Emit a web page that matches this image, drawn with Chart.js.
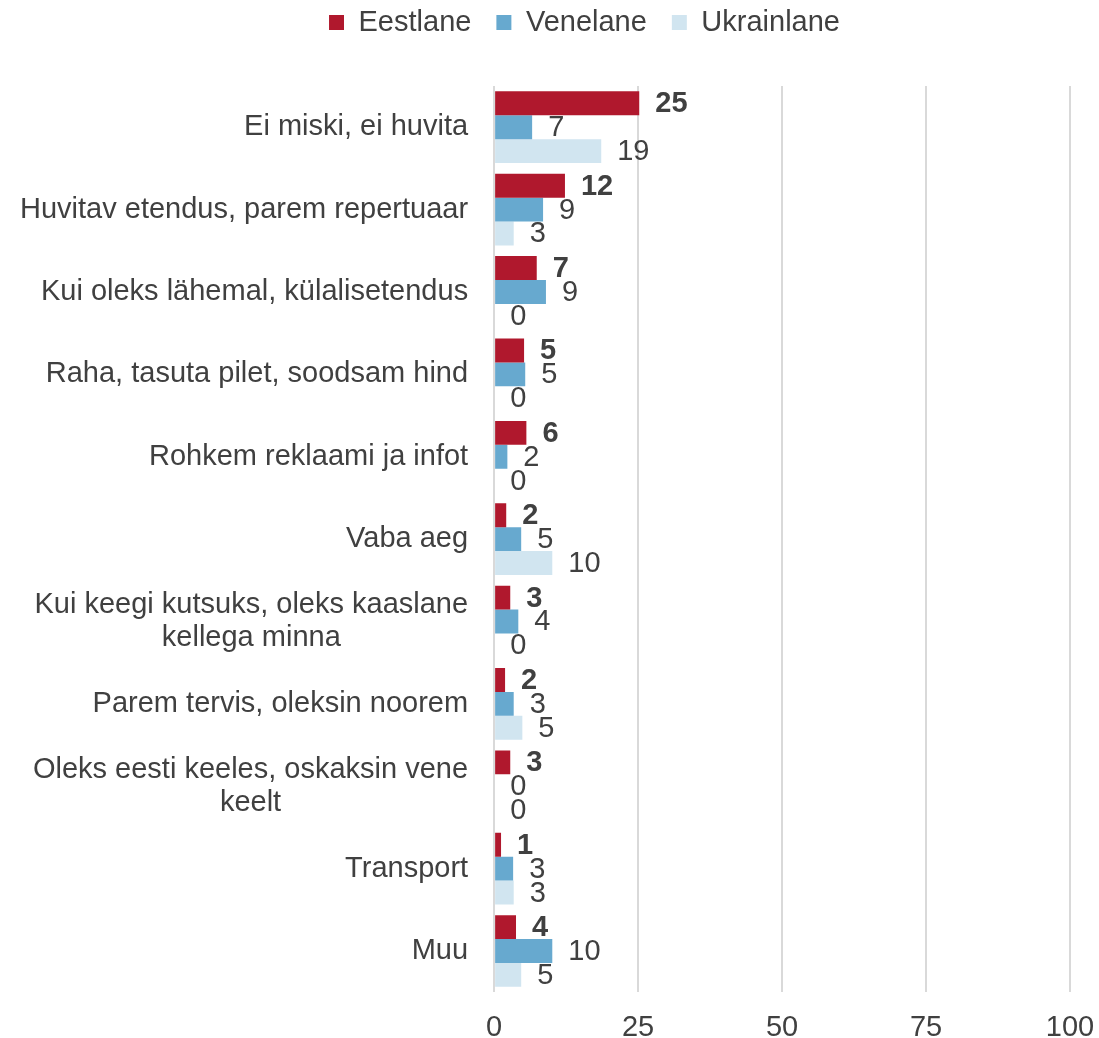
<!DOCTYPE html>
<html>
<head>
<meta charset="utf-8">
<script src="https://cdn.jsdelivr.net/npm/chart.js@4"></script>
<style>
  html, body { margin: 0; padding: 0; background: #fff; }
  #wrap { width: 1099px; height: 1038px; }
</style>
</head>
<body>
<div id="wrap"><canvas id="myChart" width="1099" height="1038"></canvas></div>
<script>
// categories (two-line ones split as in the original)
var categories = [
  ['Ei miski, ei huvita'],
  ['Huvitav etendus, parem repertuaar'],
  ['Kui oleks lähemal, külalisetendus'],
  ['Raha, tasuta pilet, soodsam hind'],
  ['Rohkem reklaami ja infot'],
  ['Vaba aeg'],
  ['Kui keegi kutsuks, oleks kaaslane', 'kellega minna'],
  ['Parem tervis, oleksin noorem'],
  ['Oleks eesti keeles, oskaksin vene', 'keelt'],
  ['Transport'],
  ['Muu']
];
// values
var eestlane   = [25.2, 12.3, 7.4, 5.2, 5.6, 2.1, 2.8, 1.9, 2.8, 1.2, 3.8];
var venelane   = [6.6, 8.5, 9.0, 5.4, 2.3, 4.7, 4.2, 3.4, 0, 3.3, 10.1];
var ukrainlane = [18.6, 3.4, 0, 0, 0, 10.1, 0, 4.9, 0, 3.4, 4.7];
var xTicks = [0, 25, 50, 75, 100];

var FONT = "'Liberation Sans', Arial, sans-serif";
var TXT = '#404040';
var FS = 29;

// value labels right of each bar
var valueLabels = {
  id: 'valueLabels',
  afterDatasetsDraw: function(chart) {
    var ctx = chart.ctx;
    ctx.save();
    ctx.fillStyle = TXT;
    ctx.textAlign = 'left';
    ctx.textBaseline = 'middle';
    chart.data.datasets.forEach(function(ds, i) {
      var meta = chart.getDatasetMeta(i);
      ctx.font = (i === 0 ? 'bold ' : '') + FS + 'px ' + FONT;
      meta.data.forEach(function(bar, j) {
        ctx.fillText(String(Math.round(ds.data[j])), bar.x + 16, bar.y + 1);
      });
    });
    ctx.restore();
  }
};

// category labels: lines centred on each other, block right-aligned
var catLabels = {
  id: 'catLabels',
  afterDraw: function(chart) {
    var ctx = chart.ctx;
    var y = chart.scales.y;
    var right = chart.chartArea.left - 26;
    ctx.save();
    ctx.fillStyle = TXT;
    ctx.font = FS + 'px ' + FONT;
    ctx.textAlign = 'center';
    ctx.textBaseline = 'middle';
    categories.forEach(function(lines, i) {
      var w = 0;
      lines.forEach(function(l) { w = Math.max(w, ctx.measureText(l).width); });
      var cy = y.getPixelForTick(i);
      var lh = 33;
      var top = cy - (lines.length - 1) * lh / 2;
      lines.forEach(function(l, k) {
        ctx.fillText(l, right - w / 2, top + k * lh);
      });
    });
    ctx.restore();
  }
};

// extra room under the legend, and nudge it right like the original
var legendGap = {
  id: 'legendGap',
  beforeInit: function(chart) {
    var fit = chart.legend.fit;
    chart.legend.fit = function() {
      fit.bind(chart.legend)();
      this.height += 39;
    };
  },
  afterLayout: function(chart) {
    chart.legend.left += 35;
    chart.legend.right += 35;
  }
};

var ctx = document.getElementById('myChart');
var myChart = new Chart(ctx, {
  type: 'bar',
  data: {
    labels: categories,
    datasets: [
      { label: 'Eestlane', data: eestlane, backgroundColor: '#b0182d' },
      { label: 'Venelane', data: venelane, backgroundColor: '#67a9cf' },
      { label: 'Ukrainlane', data: ukrainlane, backgroundColor: '#d1e5f0' }
    ]
  },
  options: {
    indexAxis: 'y',
    responsive: false,
    animation: false,
    categoryPercentage: 0.87,
    barPercentage: 1,
    layout: { padding: { top: -17, right: 0, left: 0, bottom: -25 } },
    plugins: {
      legend: {
        position: 'top',
        labels: {
          font: { size: FS, family: FONT },
          color: TXT,
          boxWidth: 15,
          boxHeight: 15,
          padding: 25
        }
      },
      tooltip: { enabled: false }
    },
    scales: {
      x: {
        min: 0,
        max: 100,
        afterBuildTicks: function(scale) {
          scale.ticks = xTicks.map(function(v) { return { value: v }; });
        },
        afterFit: function(scale) {
          scale.paddingRight = 29;
        },
        grid: { color: '#d9d9d9', lineWidth: 2, drawTicks: false },
        border: { display: false },
        ticks: {
          font: { size: FS, family: FONT },
          color: TXT,
          padding: 18
        }
      },
      y: {
        grid: { display: false, drawTicks: false },
        border: { display: false },
        ticks: {
          font: { size: FS, family: FONT },
          color: 'rgba(0,0,0,0)',
          padding: 23
        }
      }
    }
  },
  plugins: [valueLabels, catLabels, legendGap]
});
</script>
</body>
</html>
